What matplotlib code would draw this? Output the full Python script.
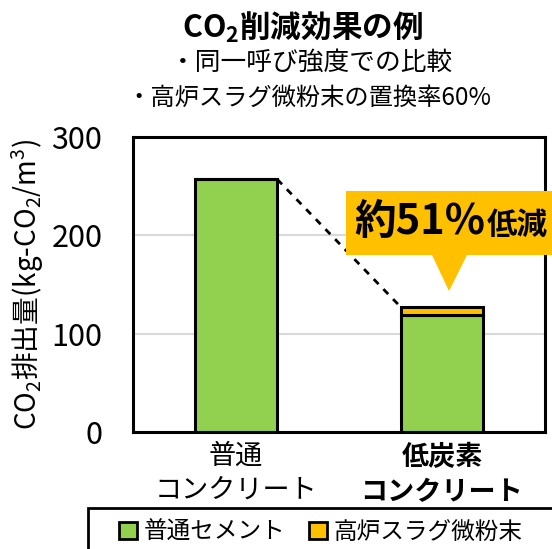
import matplotlib
matplotlib.use('Agg')
import matplotlib.pyplot as plt
from matplotlib.patches import Patch, Polygon, Rectangle

plt.rcParams['font.family'] = ['Noto Sans CJK JP', 'DejaVu Sans']
plt.rcParams['mathtext.fontset'] = 'custom'
plt.rcParams['mathtext.rm'] = 'Noto Sans CJK JP'
plt.rcParams['mathtext.bf'] = 'Noto Sans CJK JP:bold'

# data
categories = ['普通\nコンクリート', '低炭素\nコンクリート']
cement = [257, 119]
slag = [0, 8]
series_names = ['普通セメント', '高炉スラグ微粉末']
yticks = [0, 100, 200, 300]

green = '#92d050'
yellow = '#ffc000'

W, H = 552, 549
fig = plt.figure(figsize=(W / 100, H / 100), dpi=100)
ax = fig.add_axes([133 / W, 1 - 432 / H, (545 - 133) / W, (432 - 137) / H])

x = list(range(len(categories)))
ax.bar(x, cement, width=0.4, color=green, edgecolor='black', linewidth=2.2, zorder=3)
ax.bar(x, slag, bottom=cement, width=0.4, color=yellow, edgecolor='black', linewidth=2.2, zorder=3)

# dashed connector between bar tops
tops = [c + s for c, s in zip(cement, slag)]
ax.plot([x[0] + 0.2, x[1] - 0.2], [tops[0], tops[1]], color='black', lw=2,
        linestyle=(0, (2.5, 2.5)), zorder=4)

ax.set_xlim(-0.5, 1.5)
ax.set_ylim(0, 300)
ax.set_yticks(yticks)
ax.set_xticks(x)
ax.set_xticklabels(categories, fontsize=19.5, linespacing=1.3)
ax.get_xticklabels()[1].set_fontweight('bold')
ax.tick_params(axis='y', length=0, pad=22, labelsize=22)
ax.tick_params(axis='x', length=0, pad=8)
ax.yaxis.grid(True, color='#d9d9d9', lw=1.5, zorder=0)
ax.set_axisbelow(True)
for sp in ax.spines.values():
    sp.set_linewidth(2.2)
ax.set_ylabel('CO$_2$排出量(kg-CO$_2$/m$^3$)', fontsize=20, labelpad=4)

# titles
fig.text(302 / W, 1 - 27 / H, r'$\mathbf{CO_2}$削減効果の例', ha='center', va='center',
         fontsize=22, fontweight='bold')
fig.text(311 / W, 1 - 63 / H, '・同一呼び強度での比較', ha='center', va='center', fontsize=18.5)
fig.text(309 / W, 1 - 98 / H, '・高炉スラグ微粉末の置換率60%', ha='center', va='center', fontsize=17.5)

# callout
def fpt(px, py):
    return (px / W, 1 - py / H)

callout = Polygon([fpt(346, 191), fpt(552, 191), fpt(552, 255), fpt(467, 255),
                   fpt(449, 291), fpt(432, 255), fpt(346, 255)],
                  closed=True, facecolor=yellow, edgecolor='none',
                  transform=fig.transFigure, zorder=10)
fig.patches.append(callout)
fig.text(354 / W, 1 - 234 / H, '約51%', ha='left', va='baseline', fontsize=30,
         fontweight='bold', zorder=11)
fig.text(487 / W, 1 - 234 / H, '低減', ha='left', va='baseline', fontsize=22,
         fontweight='bold', zorder=11)

# legend
fig.patches.append(Rectangle(fpt(88, 560), 1, (560 - 508) / H, fill=False,
                             edgecolor='black', lw=2, transform=fig.transFigure))
handles = [Patch(facecolor=green, edgecolor='black', lw=2),
           Patch(facecolor=yellow, edgecolor='black', lw=2)]
fig.legend(handles, series_names, loc='center left', bbox_to_anchor=fpt(119, 532),
           ncol=2, frameon=False, fontsize=17, handlelength=0.75, handleheight=0.75,
           handletextpad=0.3, columnspacing=1.0, borderpad=0, borderaxespad=0)

fig.savefig('out.png', dpi=100)
